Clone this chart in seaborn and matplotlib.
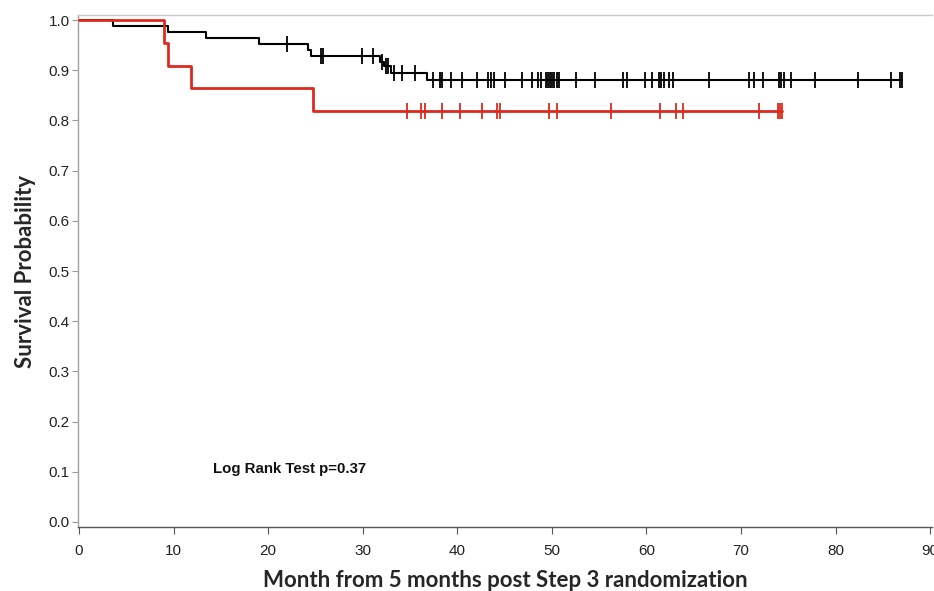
import numpy as np
import pandas as pd
import matplotlib
matplotlib.use("Agg")
import matplotlib.pyplot as plt
import seaborn as sns

# Kaplan-Meier step data (months, survival probability)
black_event_times = [3.6, 9.45, 13.4, 19.0, 24.2, 24.5, 31.8, 32.3, 33.0, 36.8]
black_surv = [0.989, 0.976, 0.964, 0.952, 0.940, 0.928, 0.916, 0.908, 0.895, 0.880]
black_end = 87.0
black_censor = [21.96, 25.6, 25.8, 29.9, 31.06, 32.0, 32.5, 32.7, 33.3, 34.2, 35.5,
                37.4, 38.2, 38.35, 39.3, 40.5, 42.1, 43.3, 43.6, 43.9, 45.1, 46.8,
                47.9, 48.5, 48.9, 49.4, 49.6, 49.8, 50.0, 50.2, 50.5, 50.8, 52.6,
                54.6, 57.5, 57.9, 59.9, 60.6, 61.3, 61.5, 61.9, 62.4, 62.85, 66.6,
                70.9, 71.4, 72.3, 74.0, 74.2, 74.6, 75.3, 77.8, 82.4, 85.9, 86.8, 87.0]

red_event_times = [9.0, 9.4, 11.85, 24.8]
red_surv = [0.955, 0.909, 0.864, 0.818]
red_end = 74.3
red_censor = [34.7, 36.2, 36.6, 38.4, 40.3, 42.6, 44.2, 44.5, 49.7, 50.5, 56.3,
              61.4, 63.1, 63.9, 71.9, 73.9, 74.1, 74.3]

x_ticks = [0, 10, 20, 30, 40, 50, 60, 70, 80, 90]
y_ticks = [0.0, 0.1, 0.2, 0.3, 0.4, 0.5, 0.6, 0.7, 0.8, 0.9, 1.0]

BLACK = "#000000"
RED = "#dc2a1e"


def step_frame(times, surv, end, group):
    t = [0.0] + list(times) + [end]
    s = [1.0] + list(surv) + [surv[-1]]
    return pd.DataFrame({"time": t, "surv": s, "group": group})


def censor_frame(times, ev_times, surv, group):
    ev = np.asarray(ev_times)
    levels = np.concatenate([[1.0], surv])
    idx = np.searchsorted(ev, np.asarray(times), side="right")
    return pd.DataFrame({"time": times, "surv": levels[idx], "group": group})


curves = pd.concat([
    step_frame(black_event_times, black_surv, black_end, "black"),
    step_frame(red_event_times, red_surv, red_end, "red"),
], ignore_index=True)
censors = pd.concat([
    censor_frame(black_censor, black_event_times, black_surv, "black"),
    censor_frame(red_censor, red_event_times, red_surv, "red"),
], ignore_index=True)

sns.set_style("white")
plt.rcParams["font.family"] = ["Liberation Sans", "DejaVu Sans"]

fig = plt.figure(figsize=(9.34, 5.91), dpi=100)
ax = fig.add_axes([78 / 934, 1 - 527 / 591, (932 - 78) / 934, (527 - 15) / 591])

palette = {"black": BLACK, "red": RED}
widths = {"black": 1.5, "red": 2.0}
for grp in ["black", "red"]:
    sub = curves[curves.group == grp]
    sns.lineplot(data=sub, x="time", y="surv", color=palette[grp], lw=widths[grp],
                 drawstyle="steps-post", estimator=None, sort=False, ax=ax,
                 legend=False, zorder=3 if grp == "red" else 2)
    csub = censors[censors.group == grp]
    sns.scatterplot(data=csub, x="time", y="surv", marker="|", s=120,
                    color=palette[grp], linewidth=1.3, ax=ax, legend=False,
                    zorder=3 if grp == "red" else 2)

ax.set_xlim(-0.1, 90.2)
ax.set_ylim(-0.01, 1.01)
ax.set_xticks(x_ticks)
ax.set_xticklabels([str(v) for v in x_ticks])
ax.set_yticks(y_ticks)
ax.set_yticklabels([f"{v:.1f}" for v in y_ticks])

ax.tick_params(axis="x", direction="out", length=5, width=0.8, color="#555555",
               labelsize=11, labelcolor="#222222", pad=7, bottom=True)
ax.tick_params(axis="y", direction="out", length=4, width=0.8, color="#999999",
               labelsize=11, labelcolor="#222222", pad=2, left=True)

for side in ["top", "right", "left", "bottom"]:
    ax.spines[side].set_linewidth(1.0)
ax.spines["top"].set_color("#c8c8c8")
ax.spines["right"].set_visible(False)
ax.spines["left"].set_color("#a0a0a0")
ax.spines["bottom"].set_color("#555555")

ax.set_xlabel("Month from 5 months post Step 3 randomization", fontsize=16,
              fontweight="bold", family=["Lato", "DejaVu Sans"], labelpad=9)
ax.set_ylabel("Survival Probability", fontsize=16, fontweight="bold",
              family=["Lato", "DejaVu Sans"], labelpad=9)

ax.text(14.2, 0.105, "Log Rank Test p=0.37", fontsize=10.8, fontweight="bold",
        ha="left", va="center", color="#111111")

fig.savefig("out.png", dpi=100)
